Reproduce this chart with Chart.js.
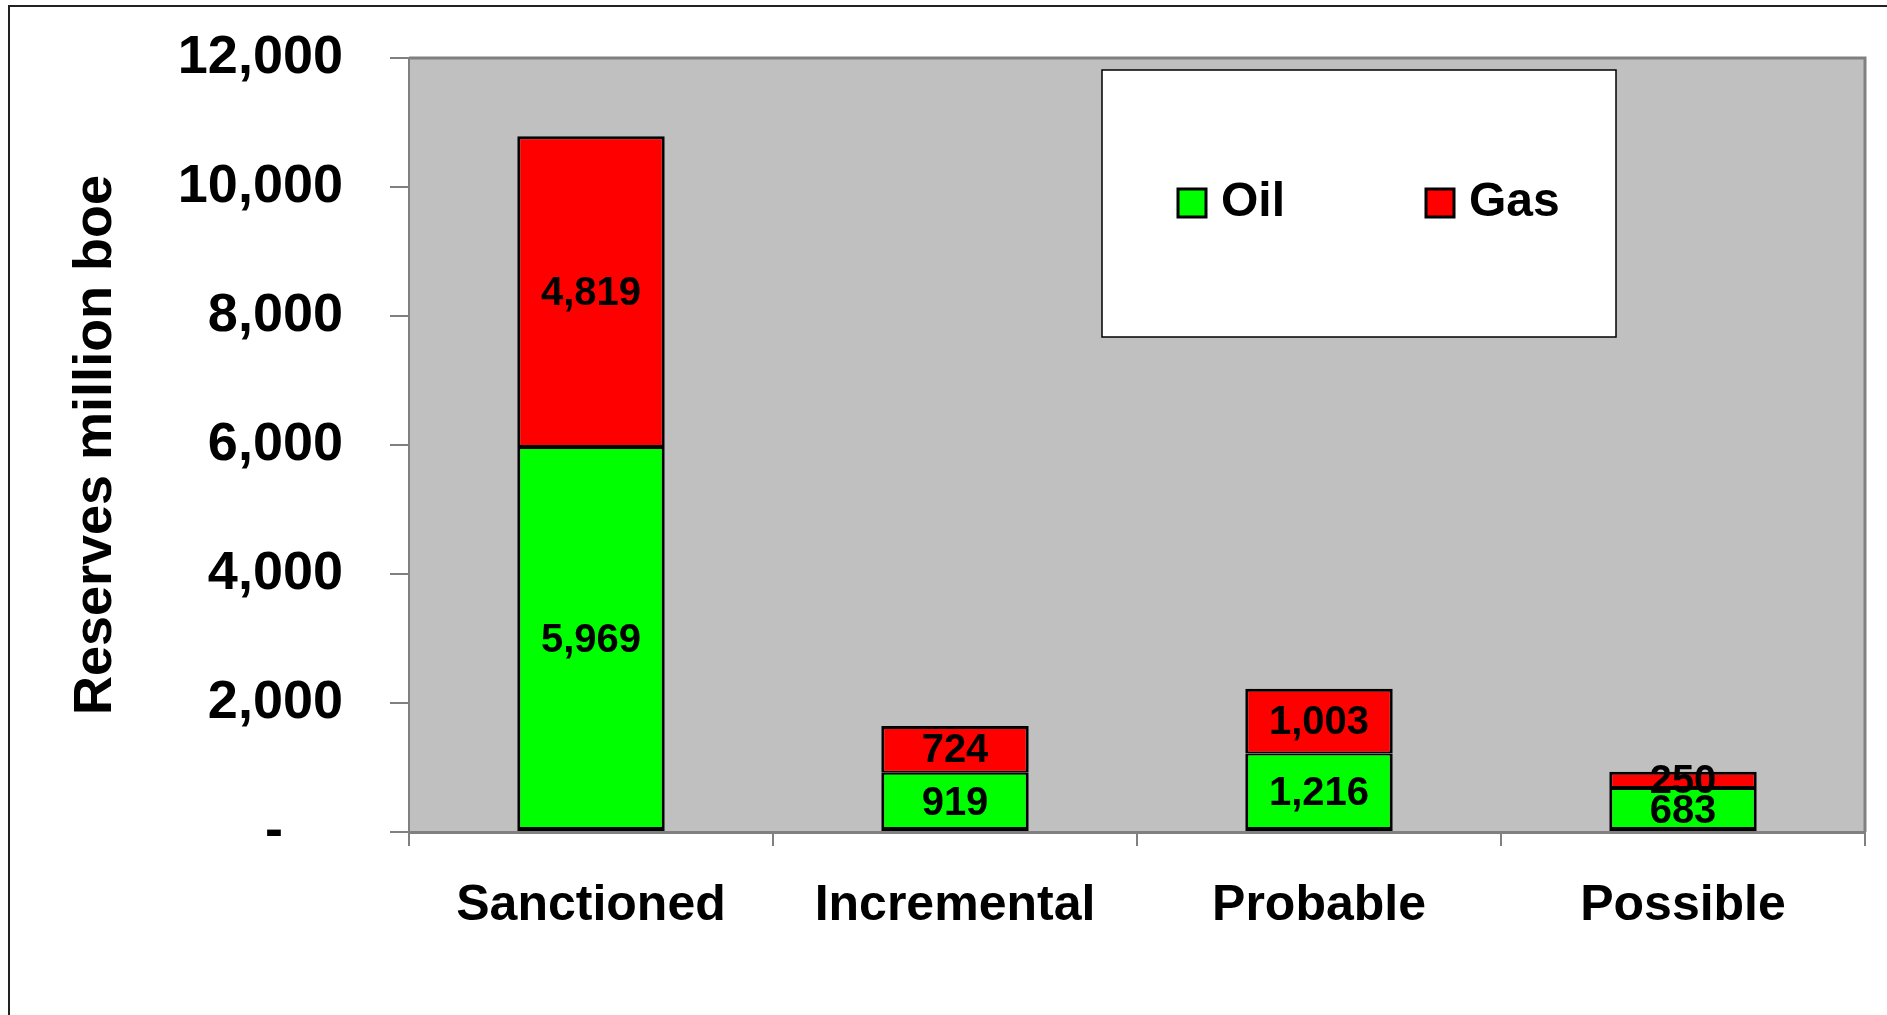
<!DOCTYPE html>
<html>
<head>
<meta charset="utf-8">
<script src="https://cdn.jsdelivr.net/npm/chart.js@4.4.1/dist/chart.umd.min.js"></script>
<style>
    html, body { margin: 0; padding: 0; background: #fff; }
    #wrap { position: relative; width: 1887px; height: 1015px; }
</style>
</head>
<body>
<div id="wrap"><canvas id="reservesChart" width="1887" height="1015"></canvas></div>
<script>
// data
const categories = ['Sanctioned', 'Incremental', 'Probable', 'Possible'];
const oilValues = [5969, 919, 1216, 683];
const gasValues = [4819, 724, 1003, 250];
const yTicks = [0, 2000, 4000, 6000, 8000, 10000, 12000];

const FONT = '"Liberation Sans", Arial, sans-serif';

function fmt(v) {
    return Number(v).toLocaleString('en-US');
}

// grey plot area + outer frame
const bgPlugin = {
    id: 'bg',
    beforeDraw(chart) {
        const ctx = chart.ctx;
        const a = chart.chartArea;
        ctx.save();
        ctx.fillStyle = '#fff';
        ctx.fillRect(0, 0, chart.width, chart.height);
        ctx.strokeStyle = '#222';
        ctx.lineWidth = 2;
        ctx.beginPath();
        ctx.moveTo(9, chart.height);
        ctx.lineTo(9, 6);
        ctx.lineTo(chart.width, 6);
        ctx.stroke();
        ctx.fillStyle = '#C0C0C0';
        ctx.fillRect(a.left, a.top, a.right - a.left, a.bottom - a.top);
        ctx.restore();
    },
    beforeDatasetsDraw(chart) {
        const ctx = chart.ctx;
        const a = chart.chartArea;
        ctx.save();
        ctx.strokeStyle = '#808080';
        ctx.lineWidth = 3;
        ctx.beginPath();
        ctx.moveTo(a.left, a.top);
        ctx.lineTo(a.right, a.top);
        ctx.lineTo(a.right, a.bottom);
        ctx.stroke();
        ctx.restore();
    }
};

// value labels in the middle of each segment
const labelPlugin = {
    id: 'segLabels',
    afterDatasetsDraw(chart) {
        const ctx = chart.ctx;
        ctx.save();
        ctx.font = 'bold 40px ' + FONT;
        ctx.fillStyle = '#000';
        ctx.textAlign = 'center';
        ctx.textBaseline = 'middle';
        chart.data.datasets.forEach(function (ds, i) {
            chart.getDatasetMeta(i).data.forEach(function (bar, j) {
                const p = bar.getProps(['x', 'y', 'base'], true);
                ctx.fillText(fmt(ds.data[j]), p.x, (p.y + p.base) / 2 + 2);
            });
        });
        ctx.restore();
    }
};

// boxed legend floating over the plot
const legendPlugin = {
    id: 'boxLegend',
    afterDraw(chart) {
        const ctx = chart.ctx;
        const box = { x: 1102, y: 70, w: 514, h: 267 };
        const itemX = [1178, 1426];
        const cy = 203;
        ctx.save();
        ctx.fillStyle = '#fff';
        ctx.fillRect(box.x, box.y, box.w, box.h);
        ctx.strokeStyle = '#000';
        ctx.lineWidth = 1.5;
        ctx.strokeRect(box.x, box.y, box.w, box.h);
        ctx.font = 'bold 48px ' + FONT;
        ctx.textBaseline = 'middle';
        ctx.textAlign = 'left';
        chart.data.datasets.forEach(function (ds, i) {
            const x = itemX[i];
            ctx.fillStyle = ds.backgroundColor;
            ctx.fillRect(x, cy - 14, 28, 28);
            ctx.lineWidth = 3;
            ctx.strokeStyle = '#000';
            ctx.strokeRect(x, cy - 14, 28, 28);
            ctx.fillStyle = '#000';
            ctx.fillText(ds.label, x + 43, cy);
        });
        ctx.restore();
    }
};

const ctx = document.getElementById('reservesChart').getContext('2d');
const reservesChart = new Chart(ctx, {
    type: 'bar',
    data: {
        labels: categories,
        datasets: [
            {
                label: 'Oil',
                data: oilValues,
                backgroundColor: '#00FF00',
                borderColor: '#000',
                borderWidth: { left: 3, right: 3, bottom: 4, top: 2 },
                borderSkipped: false
            },
            {
                label: 'Gas',
                data: gasValues,
                backgroundColor: '#FF0000',
                borderColor: '#000',
                borderWidth: { left: 3, right: 3, bottom: 2, top: 3 },
                borderSkipped: false
            }
        ]
    },
    options: {
        responsive: false,
        animation: false,
        devicePixelRatio: 1,
        layout: { padding: { left: 0, top: 58, right: 22, bottom: 0 } },
        datasets: {
            bar: { categoryPercentage: 1, barPercentage: 0.405 }
        },
        scales: {
            x: {
                stacked: true,
                afterFit: function (s) { s.height = 183; },
                grid: {
                    offset: true,
                    drawOnChartArea: false,
                    drawTicks: true,
                    tickLength: 14,
                    color: '#808080',
                    lineWidth: 2
                },
                border: { display: true, color: '#808080', width: 3 },
                ticks: {
                    color: '#000',
                    padding: 30,
                    font: { family: FONT, size: 50, weight: 'bold' }
                }
            },
            y: {
                stacked: true,
                min: 0,
                max: 12000,
                afterFit: function (s) { s.width = 409; },
                afterBuildTicks: function (s) {
                    s.ticks = yTicks.map(function (v) { return { value: v }; });
                },
                grid: {
                    drawOnChartArea: false,
                    drawTicks: true,
                    tickLength: 19,
                    color: '#808080',
                    lineWidth: 2
                },
                border: { display: true, color: '#808080', width: 2 },
                ticks: {
                    color: '#000',
                    padding: 47,
                    // small lineHeight keeps the top label from pushing the plot down
                    font: { family: FONT, size: 54, weight: 'bold', lineHeight: 0.4 },
                    callback: function (v) {
                        return v === 0 ? '-    ' : fmt(v);
                    }
                },
                title: {
                    display: true,
                    text: 'Reserves million boe',
                    color: '#000',
                    font: { family: FONT, size: 54, weight: 'bold' },
                    padding: { top: 64, bottom: 0 }
                }
            }
        },
        plugins: {
            legend: { display: false },
            tooltip: { enabled: false }
        }
    },
    plugins: [bgPlugin, labelPlugin, legendPlugin]
});
</script>
</body>
</html>
